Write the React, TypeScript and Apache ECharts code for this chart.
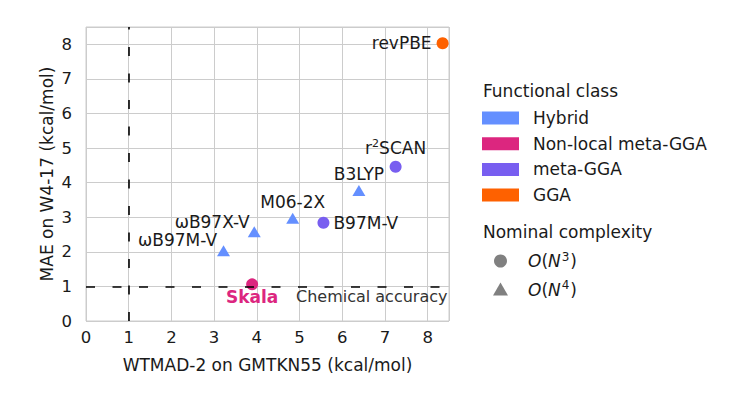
import React, { useEffect, useRef } from "react";
import * as echarts from "echarts";

const names = ["revPBE", "r2SCAN", "B3LYP", "M06-2X", "B97M-V", "ωB97X-V", "ωB97M-V", "Skala"];
const wtmad2 = [8.35, 7.25, 6.39, 4.84, 5.56, 3.94, 3.22, 3.89];
const maeW417 = [8.03, 4.46, 3.77, 2.97, 2.84, 2.58, 2.03, 1.06];
const funcClass = ["GGA", "meta-GGA", "Hybrid", "Hybrid", "meta-GGA", "Hybrid", "Hybrid", "Non-local meta-GGA"];
const complexity = ["N3", "N3", "N4", "N4", "N3", "N4", "N4", "N3"];

const classNames = ["Hybrid", "Non-local meta-GGA", "meta-GGA", "GGA"];
const classColors = ["#648FFF", "#DC267F", "#785EF0", "#FE6100"];
const complexityNames = ["N3", "N4"];

const chemicalAccuracy = 1;
const xRange = [0, 8.5];
const yRange = [0, 8.5];

const FONT = "DejaVu Sans";
const FS = 17;
const TXT = "#1a1a1a";

const labelStyle: Record<string, any> = {
  revPBE: { position: "left", distance: 5 },
  r2SCAN: {
    position: "top",
    distance: 3,
    formatter: "{a|r}{s|2}{a|SCAN}",
    rich: {
      a: { fontSize: FS, fontFamily: FONT, color: TXT },
      s: { fontSize: 11, fontFamily: FONT, color: TXT, padding: [0, 0, 9, 0] },
    },
  },
  B3LYP: { position: "top", distance: 3 },
  "M06-2X": { position: "top", distance: 2 },
  "B97M-V": { position: "right", distance: 4 },
  "ωB97X-V": { position: "left", distance: 0, offset: [2, -10] },
  "ωB97M-V": { position: "left", distance: 0, offset: [0, -11] },
  Skala: { position: "bottom", distance: -2, fontWeight: "bold", color: "#DC267F" },
};

export default function App() {
  const ref = useRef<HTMLDivElement>(null);
  useEffect(() => {
    if (!ref.current) return;
    const chart = echarts.init(ref.current, undefined, { renderer: "svg" });

    const data = names.map((n, i) => {
      const color = classColors[classNames.indexOf(funcClass[i])];
      const isTri = complexity[i] === "N4";
      return {
        name: n,
        value: [wtmad2[i], maeW417[i]],
        symbol: isTri ? "triangle" : "circle",
        symbolSize: isTri ? [13, 11] : 12,
        itemStyle: { color, opacity: 1 },
        label: {
          show: true,
          fontSize: FS,
          fontFamily: FONT,
          color: TXT,
          formatter: "{b}",
          ...labelStyle[n],
        },
      };
    });

    const legendX = 482;
    const graphics: any[] = [];
    graphics.push({
      type: "text",
      x: 483,
      y: 91,
      style: {
        text: "Functional class",
        fontSize: FS,
        fontFamily: FONT,
        fill: TXT,
        verticalAlign: "middle",
      },
    });
    classNames.forEach((c, i) => {
      const cy = 118 + i * 25.7;
      graphics.push({
        type: "rect",
        shape: { x: legendX, y: cy - 6.5, width: 37, height: 13 },
        style: { fill: classColors[i] },
      });
      graphics.push({
        type: "text",
        x: 533,
        y: cy,
        style: {
          text: c,
          fontSize: FS,
          fontFamily: FONT,
          fill: TXT,
          verticalAlign: "middle",
        },
      });
    });
    graphics.push({
      type: "text",
      x: 483,
      y: 232,
      style: {
        text: "Nominal complexity",
        fontSize: FS,
        fontFamily: FONT,
        fill: TXT,
        verticalAlign: "middle",
      },
    });
    complexityNames.forEach((c, i) => {
      const cy = 261 + i * 28.5;
      if (c === "N3") {
        graphics.push({
          type: "circle",
          shape: { cx: 500.5, cy, r: 6.5 },
          style: { fill: "#808080" },
        });
      } else {
        graphics.push({
          type: "polygon",
          shape: { points: [[500.5, cy - 7], [508, cy + 6], [493, cy + 6]] },
          style: { fill: "#808080" },
        });
      }
      graphics.push({
        type: "text",
        x: 528,
        y: cy,
        style: {
          text: `{i|O}{p|(}{i|N}{s|${c.slice(1)}}{p|)}`,
          verticalAlign: "middle",
          rich: {
            i: { fontSize: FS, fontFamily: FONT, fontStyle: "italic", fill: TXT },
            p: { fontSize: FS, fontFamily: FONT, fill: TXT },
            s: { fontSize: 12, fontFamily: FONT, fill: TXT, padding: [0, 1, 9, 1] },
          },
        },
      });
    });

    chart.setOption({
      animation: false,
      grid: {
        left: 86,
        right: 281,
        top: 27,
        bottom: 73,
        show: true,
        borderColor: "#cccccc",
        borderWidth: 1,
      },
      xAxis: {
        type: "value",
        min: xRange[0],
        max: xRange[1],
        interval: 1,
        name: "WTMAD-2 on GMTKN55 (kcal/mol)",
        nameLocation: "middle",
        nameGap: 35,
        nameTextStyle: { fontSize: FS, fontFamily: FONT, color: TXT },
        axisLine: { show: false },
        axisTick: { show: false },
        axisLabel: {
          fontSize: 16.5,
          fontFamily: FONT,
          color: TXT,
          margin: 8,
          showMaxLabel: false,
        },
        splitLine: { show: true, lineStyle: { color: "#cccccc", width: 1 } },
      },
      yAxis: {
        type: "value",
        min: yRange[0],
        max: yRange[1],
        interval: 1,
        name: "MAE on W4-17 (kcal/mol)",
        nameLocation: "middle",
        nameGap: 31,
        nameTextStyle: { fontSize: FS, fontFamily: FONT, color: TXT },
        axisLine: { show: false },
        axisTick: { show: false },
        axisLabel: {
          fontSize: 16.5,
          fontFamily: FONT,
          color: TXT,
          margin: 14,
          showMaxLabel: false,
        },
        splitLine: { show: true, lineStyle: { color: "#cccccc", width: 1 } },
      },
      series: [
        {
          type: "scatter",
          z: 1,
          data: [],
          markLine: {
            silent: true,
            symbol: "none",
            animation: false,
            lineStyle: { color: "#000", type: [9, 17.5], width: 1.6 },
            label: { show: false },
            data: [
              { xAxis: chemicalAccuracy },
              {
                yAxis: chemicalAccuracy,
                label: {
                  show: true,
                  position: "insideEndBottom",
                  formatter: "Chemical accuracy",
                  fontSize: 16,
                  fontFamily: FONT,
                  color: "#333333",
                  distance: [1.5, 2],
                },
              },
            ],
          },
        },
        {
          type: "scatter",
          z: 3,
          data,
        },
      ],
      graphic: graphics,
    });
    return () => chart.dispose();
  }, []);
  return (
    <div
      ref={ref}
      style={{ position: "absolute", left: 0, top: 0, width: 730, height: 394 }}
    />
  );
}
